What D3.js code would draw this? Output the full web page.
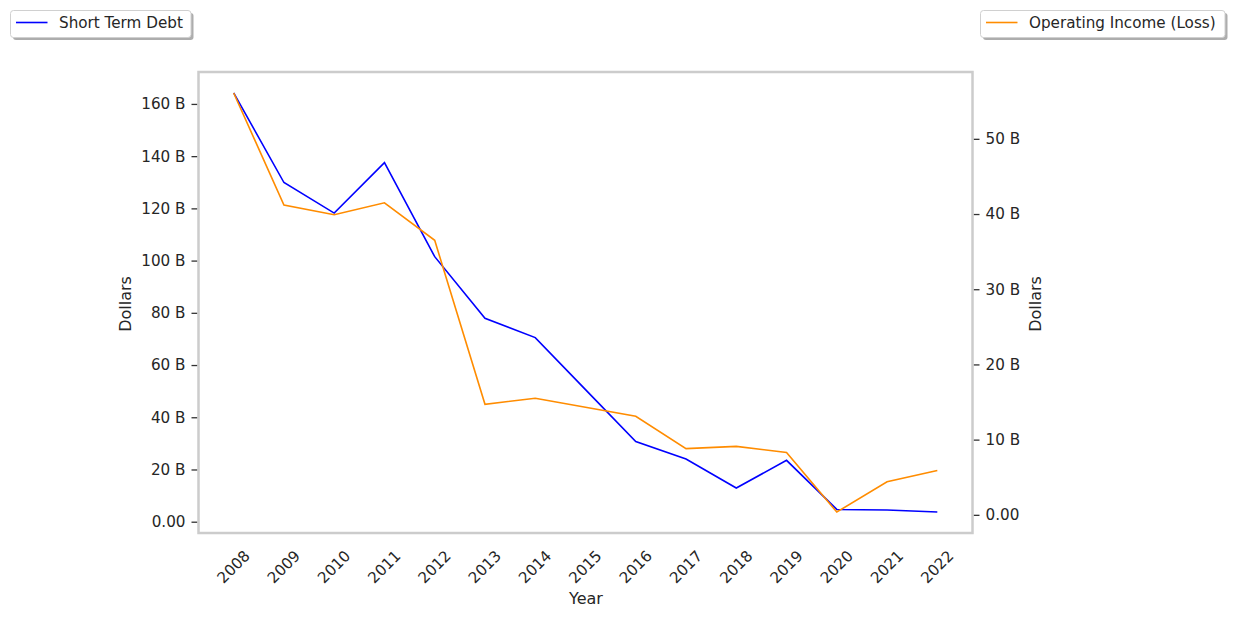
<!DOCTYPE html>
<html>
<head>
<meta charset="utf-8">
<script src="https://cdn.jsdelivr.net/npm/d3@7"></script>
<style>
  html, body { margin: 0; padding: 0; background: #fff; }
  svg, svg text { font-family: "DejaVu Sans", sans-serif; }
  svg { display: block; }
</style>
</head>
<body>
<svg id="chart" width="1233" height="618"></svg>
<script>
const years = [2008, 2009, 2010, 2011, 2012, 2013, 2014, 2015, 2016, 2017, 2018, 2019, 2020, 2021, 2022];
const shortTermDebt = [164.2, 129.9, 118.2, 137.5, 101.5, 77.9, 70.5, 50.6, 30.7, 24.0, 12.9, 23.5, 4.7, 4.5, 3.7];
const operatingIncome = [56.1, 41.2, 39.9, 41.5, 36.5, 14.7, 15.5, 14.3, 13.1, 8.8, 9.1, 8.3, 0.37, 4.4, 5.9];
const leftTicks = [0, 20, 40, 60, 80, 100, 120, 140, 160];
const rightTicks = [0, 10, 20, 30, 40, 50];
const seriesNames = ["Short Term Debt", "Operating Income (Loss)"];

const svg = d3.select("#chart");
const L = 198.5, R = 972.5, T = 72, B = 533;
const txt = "#262626";

function padDomain(vals) {
  const mn = d3.min(vals), mx = d3.max(vals), m = (mx - mn) * 0.05;
  return [mn - m, mx + m];
}
const x = d3.scaleLinear().domain(padDomain(years)).range([L, R]);
const yL = d3.scaleLinear().domain(padDomain(shortTermDebt)).range([B, T]);
const yR = d3.scaleLinear().domain(padDomain(operatingIncome)).range([B, T]);
const fmt = v => v === 0 ? "0.00" : v + " B";

const gL = svg.append("g").attr("transform", `translate(${L - 1},0)`)
  .call(d3.axisLeft(yL).tickValues(leftTicks).tickFormat(fmt).tickSize(6).tickPadding(6));
const gR = svg.append("g").attr("transform", `translate(${R + 1},0)`)
  .call(d3.axisRight(yR).tickValues(rightTicks).tickFormat(fmt).tickSize(6).tickPadding(6));
[gL, gR].forEach(g => {
  g.attr("font-family", null).attr("font-size", null);
  g.select(".domain").remove();
  g.selectAll(".tick line").attr("stroke", "#333").attr("stroke-width", 1.3);
  g.selectAll(".tick text").attr("fill", txt).style("font-size", "15.2px");
});

const gX = svg.append("g");
years.forEach(yr => {
  gX.append("text")
    .attr("transform", `translate(${x(yr)},567) rotate(-45)`)
    .attr("text-anchor", "middle").attr("dominant-baseline", "central")
    .attr("fill", txt).style("font-size", "15.2px").text(yr);
});

const lineL = d3.line().x((d, i) => x(years[i])).y(d => yL(d));
const lineR = d3.line().x((d, i) => x(years[i])).y(d => yR(d));
svg.append("path").datum(shortTermDebt).attr("d", lineL)
  .attr("fill", "none").attr("stroke", "#0000ff").attr("stroke-width", 1.6);
svg.append("path").datum(operatingIncome).attr("d", lineR)
  .attr("fill", "none").attr("stroke", "#ff8c00").attr("stroke-width", 1.6);

svg.append("rect").attr("x", L).attr("y", T).attr("width", R - L).attr("height", B - T)
  .attr("fill", "none").attr("stroke", "#cccccc").attr("stroke-width", 2.5);

svg.append("text").attr("transform", "translate(131,304) rotate(-90)")
  .attr("text-anchor", "middle").attr("fill", txt).style("font-size", "16px").text("Dollars");
svg.append("text").attr("transform", "translate(1041,304) rotate(-90)")
  .attr("text-anchor", "middle").attr("fill", txt).style("font-size", "16px").text("Dollars");
svg.append("text").attr("x", 586).attr("y", 604)
  .attr("text-anchor", "middle").attr("fill", txt).style("font-size", "16px").text("Year");

function legend(x0, x1, color, label) {
  const g = svg.append("g");
  g.append("rect").attr("x", x0 + 2.5).attr("y", 13).attr("width", x1 - x0).attr("height", 27)
    .attr("rx", 3).attr("fill", "#999").attr("opacity", 0.8);
  g.append("rect").attr("x", x0).attr("y", 10.5).attr("width", x1 - x0).attr("height", 27)
    .attr("rx", 3).attr("fill", "#fff").attr("stroke", "#d0d0d0").attr("stroke-width", 1);
  g.append("line").attr("x1", x0 + 5.5).attr("x2", x0 + 37).attr("y1", 22.5).attr("y2", 22.5)
    .attr("stroke", color).attr("stroke-width", 1.6);
  g.append("text").attr("x", x0 + 48.5).attr("y", 28).attr("fill", txt)
    .style("font-size", "15.2px").text(label);
}
legend(10.5, 191, "#0000ff", seriesNames[0]);
legend(980.5, 1225, "#ff8c00", seriesNames[1]);
</script>
</body>
</html>
